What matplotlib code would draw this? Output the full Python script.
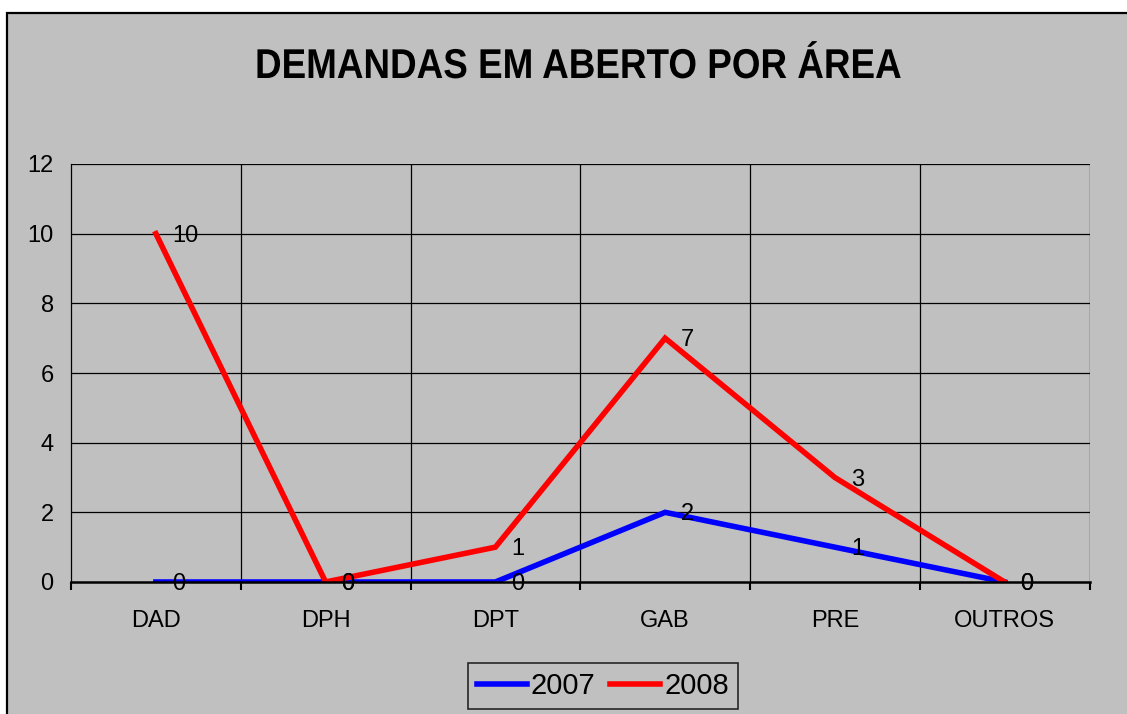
import matplotlib
matplotlib.use("Agg")
import matplotlib.pyplot as plt
from matplotlib.patches import Rectangle
from matplotlib.patheffects import AbstractPathEffect
from matplotlib.transforms import Affine2D
import numpy as np

categories = ["DAD", "DPH", "DPT", "GAB", "PRE", "OUTROS"]
series_2007 = [0, 0, 0, 2, 1, 0]
series_2008 = [10, 0, 1, 7, 3, 0]
series_names = ["2007", "2008"]
yticks = [0, 2, 4, 6, 8, 10, 12]
title = "DEMANDAS EM ABERTO POR ÁREA"

plt.rcParams['font.family'] = ['Liberation Sans', 'DejaVu Sans']


class Condense(AbstractPathEffect):
    """Horizontally condense text glyphs (keeps the Text artist)."""
    def __init__(self, sx):
        super().__init__()
        self.sx = sx

    def draw_path(self, renderer, gc, tpath, affine, rgbFace=None):
        renderer.draw_path(gc, tpath, Affine2D().scale(self.sx, 1) + affine, rgbFace)


W, H = 1127, 714
fig = plt.figure(figsize=(W / 100, H / 100), dpi=100)
fig.patch.set_facecolor('white')
bg = '#C0C0C0'
fig.patches.append(Rectangle((7 / W, -0.05), 1.1, (1 - 13 / H) + 0.05,
                             transform=fig.transFigure, facecolor=bg,
                             edgecolor='black', linewidth=1.6, zorder=-10))

ax = fig.add_axes([71 / W, 1 - 582 / H, (1089.5 - 71) / W, (582 - 164) / H])
ax.set_zorder(1)
ax.set_facecolor(bg)
x = np.arange(len(categories))
ax.set_xlim(-0.5, len(categories) - 0.5)
ax.set_ylim(0, 12)

# grid
for b in np.arange(0.5, len(categories) - 0.5 + 1e-9, 1.0):
    ax.axvline(b, color='black', linewidth=0.9, zorder=1)
for yv in yticks[1:]:
    ax.axhline(yv, color='black', linewidth=0.9, zorder=1)

ax.set_yticks(yticks)
ax.set_yticklabels([str(v) for v in yticks], fontsize=17)
ax.tick_params(axis='y', length=0, pad=12.5)
ax.set_xticks(x)
ax.set_xticklabels(categories, fontsize=17)
ax.tick_params(axis='x', length=0, pad=20)
ax.set_xticks(np.arange(-0.5, len(categories), 1.0), minor=True)
ax.tick_params(axis='x', which='minor', length=6, width=1.5, direction='out')

for s in ['top', 'right']:
    ax.spines[s].set_visible(False)
ax.spines['left'].set_linewidth(0.9)
ax.spines['bottom'].set_linewidth(1.8)
ax.spines['bottom'].set_zorder(5)

l1, = ax.plot(x, series_2007, color='#0000FF', linewidth=4, zorder=3,
              solid_joinstyle='miter', label=series_names[0])
l2, = ax.plot(x, series_2008, color='#FF0000', linewidth=4, zorder=4,
              solid_joinstyle='miter', label=series_names[1])

for xs, ys in ((x, series_2007), (x, series_2008)):
    for xi, yi in zip(xs, ys):
        ax.annotate(str(yi), (xi, yi), xytext=(11.5, -1.5), textcoords='offset points',
                    ha='left', va='center', fontsize=17, zorder=6, annotation_clip=False)

fig.text(255 / W, 1 - 78 / H, title, ha='left', va='baseline',
         fontsize=30, fontweight='bold', path_effects=[Condense(0.884)])

leg = fig.legend(handles=[l1, l2], loc='center', bbox_to_anchor=(603 / W, 1 - 686 / H),
                 ncol=2, fontsize=21, frameon=True, fancybox=False,
                 handlelength=1.7, handletextpad=0.15, columnspacing=0.5,
                 borderpad=0.3, borderaxespad=0)
leg.get_frame().set_facecolor(bg)
leg.get_frame().set_edgecolor('black')
leg.get_frame().set_linewidth(1.2)

fig.savefig('out.png', dpi=100, facecolor=fig.get_facecolor())
